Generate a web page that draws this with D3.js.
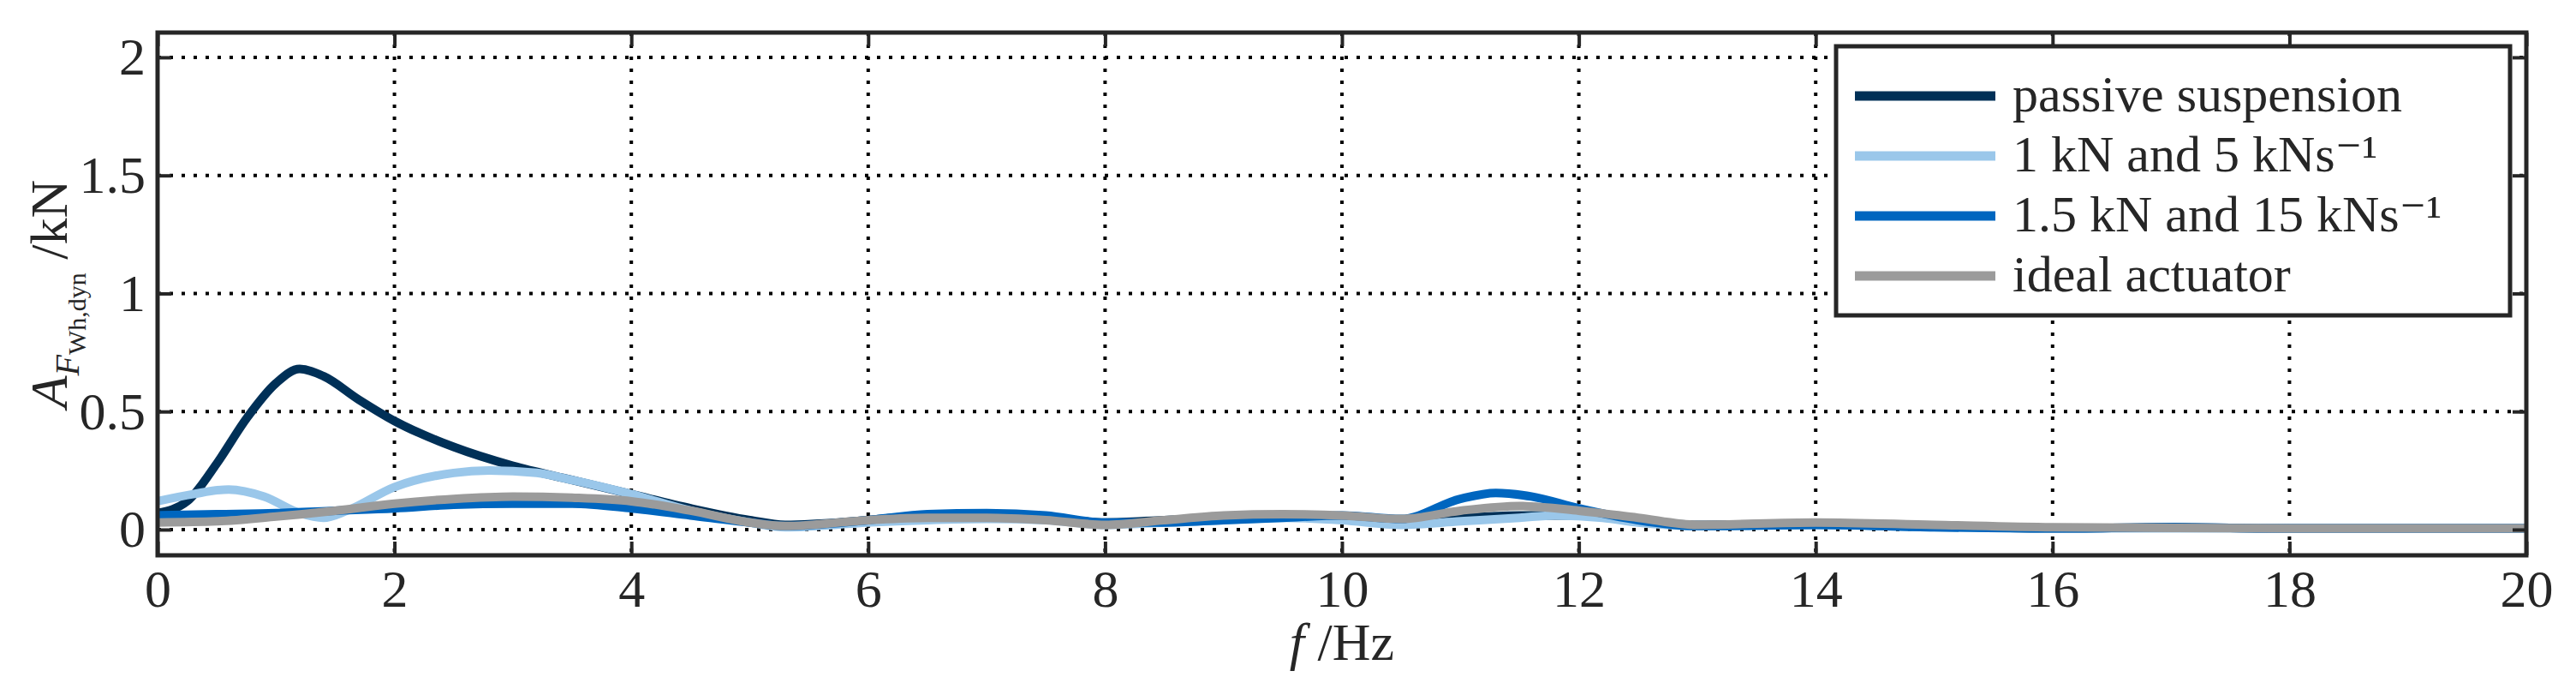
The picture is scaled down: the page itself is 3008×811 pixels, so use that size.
<!DOCTYPE html>
<html><head><meta charset="utf-8">
<script src="https://cdn.jsdelivr.net/npm/d3@7"></script>
<style>body{margin:0;background:#fff}text{font-family:"Liberation Serif","DejaVu Serif",serif;fill:#262626}</style>
</head><body>
<svg id="chart" width="3008" height="811"></svg>
<script>
// values
const passiveF = [0,0.25,0.5,0.75,1,1.2,1.4,1.7,2,2.5,3,3.5,4,4.5,5,5.3,6,6.5,7,7.5,8,8.5,9,9.5,10,10.5,11,11.5,12,12.5,13,14,15,16,17,18,19,20];
const passiveA = [0.07,0.12,0.28,0.47,0.62,0.68,0.65,0.55,0.46,0.35,0.27,0.21,0.15,0.09,0.04,0.02,0.04,0.06,0.06,0.05,0.03,0.04,0.05,0.055,0.05,0.04,0.05,0.06,0.06,0.04,0.02,0.025,0.015,0.005,0.01,0.005,0.005,0.005];
const lightF = [0,0.3,0.6,0.9,1.2,1.4,1.6,2,2.5,2.8,3.2,3.5,4,4.5,5,5.3,6,6.5,7,7.5,8,8.5,9,9.5,10,10.5,11,11.5,11.8,12.2,12.5,13,14,15,16,20];
const lightA = [0.12,0.15,0.17,0.14,0.07,0.05,0.08,0.18,0.24,0.25,0.24,0.21,0.15,0.08,0.03,0.01,0.03,0.04,0.045,0.04,0.02,0.03,0.04,0.05,0.04,0.02,0.035,0.05,0.06,0.05,0.03,0.015,0.02,0.01,0.005,0.005];
const midF = [0,0.5,1,1.5,2,2.5,3,3.5,4,4.5,5,5.3,6,6.5,7,7.5,8,8.5,9,9.5,10,10.5,11,11.3,11.6,12,12.5,13,14,15,16,17,18,20];
const midA = [0.06,0.065,0.07,0.08,0.09,0.105,0.11,0.11,0.09,0.06,0.03,0.015,0.04,0.065,0.07,0.06,0.03,0.03,0.04,0.05,0.06,0.045,0.13,0.155,0.14,0.09,0.04,0.015,0.02,0.01,0.005,0.01,0.005,0.005];
const idealF = [0,0.5,1,1.5,2,2.5,3,3.5,4,4.5,5,5.3,6,6.5,7,7.5,8,8.5,9,9.5,10,10.5,11,11.5,12,12.5,13,14,15,16,18,20];
const idealA = [0.03,0.035,0.055,0.08,0.11,0.13,0.14,0.135,0.12,0.08,0.03,0.015,0.04,0.05,0.05,0.04,0.02,0.04,0.06,0.065,0.06,0.045,0.08,0.1,0.08,0.05,0.02,0.03,0.02,0.01,0.005,0.005];

const seriesNames = ['passive suspension','1 kN and 5 kNs⁻¹','1.5 kN and 15 kNs⁻¹','ideal actuator'];
const seriesColors = ['#003057','#9ac7ea','#0066bf','#9b9b9b'];
const xTicks = [0,2,4,6,8,10,12,14,16,18,20];
const yTicks = [0,0.5,1,1.5,2];

const series = [[passiveF,passiveA],[lightF,lightA],[midF,midA],[idealF,idealA]]
  .map(([f,a],i) => ({name: seriesNames[i], color: seriesColors[i], pts: f.map((v,j)=>[v,a[j]])}));

const m = {left:184, right:2950, top:38, bottom:648};
const svg = d3.select('#chart');
const x = d3.scaleLinear().domain([0,20]).range([m.left,m.right]);
const y = d3.scaleLinear().domain([-0.109,2.105]).range([m.bottom,m.top]);
const ink = '#262626';

// grid
const grid = svg.append('g').attr('stroke','#000').attr('stroke-width',4).attr('stroke-dasharray','4,10');
xTicks.slice(1,-1).forEach(t => grid.append('line').attr('x1',x(t)).attr('x2',x(t)).attr('y1',m.top).attr('y2',m.bottom));
yTicks.forEach(t => grid.append('line').attr('x1',m.left).attr('x2',m.right).attr('y1',y(t)).attr('y2',y(t)));

// curves
const line = d3.line().x(d=>x(d[0])).y(d=>y(d[1])).curve(d3.curveMonotoneX);
series.forEach(s => svg.append('path').attr('d',line(s.pts)).attr('fill','none')
  .attr('stroke',s.color).attr('stroke-width',10).attr('stroke-linejoin','round'));

// axes with inward ticks
const tl = 16;
const bx = svg.append('g').attr('transform',`translate(0,${m.bottom})`)
  .call(d3.axisBottom(x).tickValues(xTicks).tickSize(-tl).tickPadding(16).tickFormat(d3.format('d')));
const tx = svg.append('g').attr('transform',`translate(0,${m.top})`)
  .call(d3.axisTop(x).tickValues(xTicks).tickSize(-tl).tickFormat(''));
const ly = svg.append('g').attr('transform',`translate(${m.left},0)`)
  .call(d3.axisLeft(y).tickValues(yTicks).tickSize(-tl).tickPadding(14).tickFormat(d3.format('')));
const ry = svg.append('g').attr('transform',`translate(${m.right},0)`)
  .call(d3.axisRight(y).tickValues(yTicks).tickSize(-tl).tickFormat(''));
[bx,tx,ly,ry].forEach(g => {
  g.selectAll('.domain').remove();
  g.selectAll('line').attr('stroke',ink).attr('stroke-width',4);
  g.selectAll('text').attr('font-size',62).attr('fill',ink).style('font-family','"Liberation Serif",serif');
});
svg.append('rect').attr('x',m.left).attr('y',m.top).attr('width',m.right-m.left).attr('height',m.bottom-m.top)
  .attr('fill','none').attr('stroke',ink).attr('stroke-width',5);

// axis labels
svg.append('text').attr('x',(m.left+m.right)/2).attr('y',770).attr('text-anchor','middle').attr('font-size',62)
  .html('<tspan font-style="italic">f</tspan> /Hz');
const yl = svg.append('text').attr('transform',`translate(78,${(m.top+m.bottom)/2}) rotate(-90)`)
  .attr('text-anchor','middle').attr('font-size',62);
yl.append('tspan').attr('font-style','italic').text('A');
yl.append('tspan').attr('font-size',40).attr('dy',14).attr('font-style','italic').text('F');
yl.append('tspan').attr('font-size',30).attr('dy',8).text('Wh,dyn');
yl.append('tspan').attr('dy',-22).text(' /kN');

// legend
const lg = svg.append('g').attr('transform','translate(2144,54)');
lg.append('rect').attr('width',787).attr('height',314).attr('fill','#fff').attr('stroke',ink).attr('stroke-width',5);
series.forEach((s,i) => {
  const yy = 58 + i*70;
  lg.append('line').attr('x1',22).attr('x2',186).attr('y1',yy).attr('y2',yy).attr('stroke',s.color).attr('stroke-width',11);
  lg.append('text').attr('x',206).attr('y',yy+18).attr('font-size',60).attr('fill','#000').text(s.name);
});
</script>
</body></html>
